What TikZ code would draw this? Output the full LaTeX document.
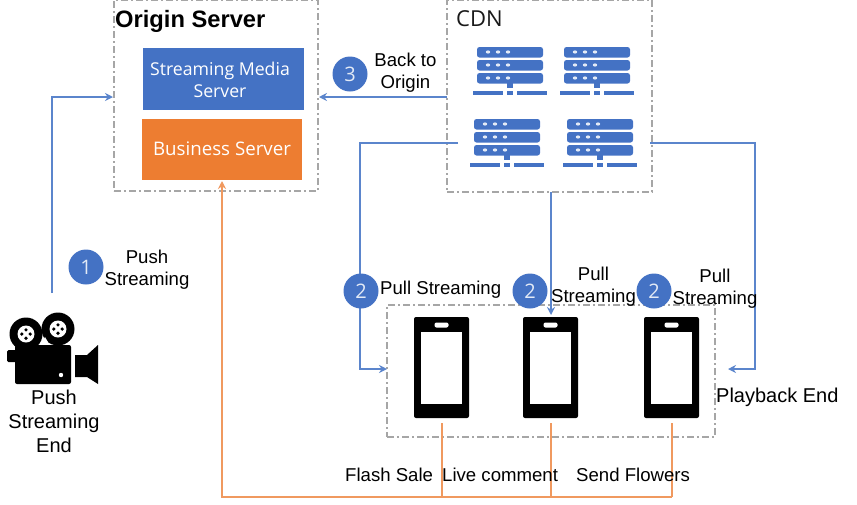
\documentclass[tikz,border=0pt]{standalone}
\usepackage{fontspec}
\setmainfont{Liberation Sans}
\newfontfamily\uifont{Open Sans}
\usetikzlibrary{arrows.meta}
\definecolor{bluecol}{HTML}{4472C4}
\definecolor{linecol}{HTML}{5B85CC}
\definecolor{orangecol}{HTML}{ED7D31}
\definecolor{orangeline}{HTML}{F0995F}
\definecolor{dashcol}{HTML}{A6A6A6}
\tikzset{
  x=1pt,y=-1pt,
  groupbox/.style={draw=dashcol,line width=1.3pt,dash pattern=on 7pt off 3pt on 2pt off 3pt},
  flowblue/.style={draw=linecol,line width=2.2pt,-{Stealth[length=8pt,width=8pt]}},
  floworange/.style={draw=orangeline,line width=2.2pt,-{Stealth[length=8pt,width=8pt]}},
  floworangeplain/.style={draw=orangeline,line width=2.2pt},
  badge/.style={circle,fill=bluecol,minimum size=35pt,inner sep=0pt,text=white!85!bluecol,font=\uifont\fontsize{20}{20}\selectfont},
  lbl/.style={align=center,inner sep=0pt,font=\fontsize{18.6}{22}\selectfont,text=black},
  serverpic/.pic={
    \foreach \yy in {0,13,26}{
      \fill[bluecol,rounded corners=2.5pt] (0,\yy) rectangle (66,\yy+10.5);
      \foreach \xx in {11,21,31}\fill[white!85!bluecol] (\xx,\yy+5) ellipse (2.2pt and 1.6pt);
    }
    \fill[bluecol] (30,36) rectangle (36,41);
    \fill[bluecol] (-4,44) rectangle (26,48);
    \fill[bluecol] (30,44) rectangle (36,48);
    \fill[bluecol] (40,44) rectangle (70,48);
  },
  phonepic/.pic={
    \fill[black,rounded corners=2pt] (0,0) rectangle (55,101);
    \fill[white] (7,15) rectangle (48,87);
    \fill[white,rounded corners=2pt] (20.5,5.5) rectangle (34.5,10.5);
  },
  campic/.pic={
    \fill[black] (26,334) circle (16.5);
    \fill[black] (58,329) circle (16.5);
    \fill[black,rounded corners=2pt] (15,345) rectangle (71,384);
    \fill[black,rounded corners=1.5pt] (7,350) rectangle (17,362);
    \fill[black] (75,355) -- (87,355) -- (98,345) -- (98,384) -- (87,377) -- (75,377) -- cycle;
    \fill[white] (26,334) circle (8.5);
    \fill[white] (58,329) circle (8.5);
    \foreach \cx/\cy in {26/334,58/329}{
      \foreach \dx/\dy in {-4.2/0,4.2/0,0/-4.2,0/4.2}\fill[black] (\cx+\dx,\cy+\dy) circle (1.8);
    }
    \fill[white] (61,375) circle (2.2);
    \fill[white] (42,342) -- (45,337) -- (48,342) -- cycle;
  }
}
\begin{document}
\begin{tikzpicture}
\useasboundingbox (0,0) rectangle (857,504);
% groups
\node[groupbox,minimum width=204pt,minimum height=191pt,inner sep=0pt] (origin) at (216,95.5) {};
\node[groupbox,minimum width=205pt,minimum height=192pt,inner sep=0pt] (cdn) at (549.5,96) {};
\node[groupbox,minimum width=328pt,minimum height=132pt,inner sep=0pt] (phones) at (551,371) {};
% servers
\node[fill=bluecol,minimum width=161pt,minimum height=62pt,inner sep=0pt] (media) at (223.5,79) {};
\node[text=white,align=center,inner sep=0pt,font=\uifont\fontsize{17.7}{22}\selectfont] (mediatext) at (220,79.5) {Streaming Media\\Server};
\node[fill=orangecol,minimum width=160pt,minimum height=61pt,inner sep=0pt,text=white,font=\uifont\fontsize{18.7}{22}\selectfont] (business) at (222,149.5) {\raisebox{1pt}{Business Server}};
\node[anchor=west,inner sep=0pt,font=\bfseries\fontsize{23.7}{26}\selectfont] (origintitle) at (115,21) {Origin Server};
\node[anchor=west,inner sep=0pt,font=\uifont\fontsize{22}{26}\selectfont,text=black!90] (cdntitle) at (456,19) {CDN};
% icons
\pic at (477,47) {serverpic};
\pic at (564,47) {serverpic};
\pic at (474,119) {serverpic};
\pic at (567,119) {serverpic};
\pic at (414,317) {phonepic};
\pic at (523,317) {phonepic};
\pic at (644,317) {phonepic};
\pic at (0,0) {campic};
% anchors
\coordinate (camtop) at (52,293);
\coordinate (origincorner) at (52,97);
\coordinate (originL) at (113,97);
\coordinate (cdnL) at (447,97);
\coordinate (originR) at (319,97);
\coordinate (srvL) at (458,143);
\coordinate (leftbend) at (360,143);
\coordinate (leftlow) at (360,369);
\coordinate (phonesL) at (387,369);
\coordinate (cdnB) at (551,192);
\coordinate (phone2top) at (551,315);
\coordinate (srvR) at (650,143);
\coordinate (rightbend) at (755,143);
\coordinate (rightlow) at (755,369);
\coordinate (phonesR) at (728,369);
\coordinate (ph1) at (442,423);
\coordinate (ph2) at (551,423);
\coordinate (ph3) at (672,423);
\coordinate (bus1) at (442,497);
\coordinate (bus2) at (551,497);
\coordinate (bus3) at (672,497);
\coordinate (buscorner) at (222,497);
\coordinate (originB) at (222,181);
% connectors
\draw[flowblue] (camtop) -- (origincorner) -- (originL);
\draw[flowblue] (cdnL) -- (originR);
\draw[flowblue] (srvL) -- (leftbend) -- (leftlow) -- (phonesL);
\draw[flowblue] (cdnB) -- (phone2top);
\draw[flowblue] (srvR) -- (rightbend) -- (rightlow) -- (phonesR);
\draw[floworange] (bus3) -- (buscorner) -- (originB);
\draw[floworangeplain] (ph1) -- (bus1);
\draw[floworangeplain] (ph2) -- (bus2);
\draw[floworangeplain] (ph3) -- (bus3);
% badges
\node[badge] (b3) at (350,74) {3};
\node[badge] (b1) at (86,267) {1};
\node[badge] (b2a) at (361,291) {2};
\node[badge] (b2b) at (530,291) {2};
\node[badge] (b2c) at (654,291) {2};
% labels
\node[lbl] (l3) at (405.5,72.5) {Back to\\Origin};
\node[lbl] (l1) at (147,269.5) {Push\\Streaming};
\node[lbl,anchor=west] (l2a) at (380,290) {Pull Streaming};
\node[lbl] (l2b) at (593.5,287) {Pull\\Streaming};
\node[lbl] (l2c) at (715,289) {Pull\\Streaming};
\node[lbl,anchor=west,font=\fontsize{20}{24}\selectfont] (lplay) at (716,397) {Playback End};
\node[lbl,font=\fontsize{20}{24}\selectfont] (lcam) at (54,421) {Push\\Streaming\\End};
\node[lbl,anchor=west] (lf) at (345,475) {Flash Sale};
\node[lbl,anchor=west] (ll) at (442,475) {Live comment};
\node[lbl,anchor=west] (ls) at (576,475) {Send Flowers};
\end{tikzpicture}
\end{document}
